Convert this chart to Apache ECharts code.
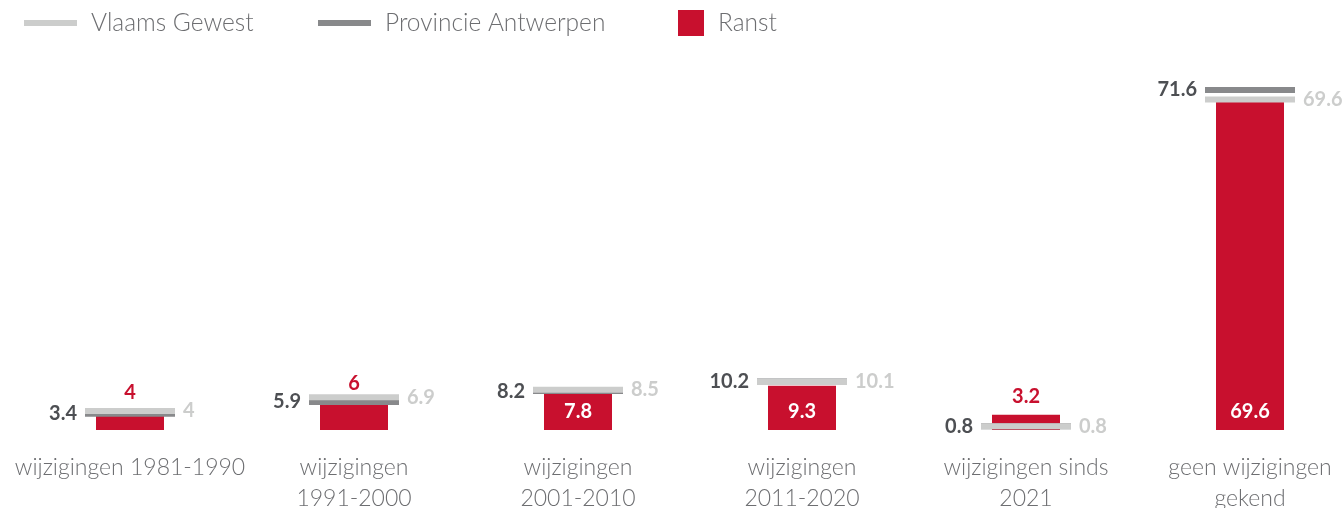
<!DOCTYPE html>
<html>
<head>
<meta charset="utf-8">
<script src="https://cdn.jsdelivr.net/npm/echarts@6/dist/echarts.min.js"></script>
<style>
  html, body { margin: 0; padding: 0; background: #ffffff; }
  #chart { width: 1344px; height: 508px; }
</style>
</head>
<body>
<div id="chart"></div>
<script>
// Share of dwellings by period of last change
const categories = [
  'wijzigingen 1981-1990',
  'wijzigingen\n1991-2000',
  'wijzigingen\n2001-2010',
  'wijzigingen\n2011-2020',
  'wijzigingen sinds\n2021',
  'geen wijzigingen\ngekend'
];
const ranst = [4, 6, 7.8, 9.3, 3.2, 69.6];
const vlaamsGewest = [4, 6.9, 8.5, 10.1, 0.8, 69.6];
const provincieAntwerpen = [3.4, 5.9, 8.2, 10.2, 0.8, 71.6];

const RED = '#c8102e';
const LIGHT = '#cccdcc';
const DARK = '#88898b';
const DARK_TEXT = '#4d4f53';
const FONT = 'Lato, "Open Sans", sans-serif';

// short bars carry their value above, taller ones inside near the base
const insideFrom = 7;
const ranstData = ranst.map(v => ({
  value: v,
  label: v >= insideFrom
    ? { position: 'insideBottom', distance: 8, color: '#ffffff' }
    : { position: 'top', distance: 8, color: RED }
}));

const legendText = { fontFamily: FONT, fontSize: 24.5, fontWeight: 300, color: '#6d6e71', padding: [0, 0, 0, 9], lineHeight: 26 };

const chart = echarts.init(document.getElementById('chart'), null, { renderer: 'canvas' });
chart.setOption({
  animation: false,
  backgroundColor: '#ffffff',
  legend: [
    { data: [{ name: 'Vlaams Gewest', icon: 'rect' }], left: 24, top: 10, padding: 0,
      itemWidth: 53, itemHeight: 6, textStyle: legendText, selectedMode: false },
    { data: [{ name: 'Provincie Antwerpen', icon: 'rect' }], left: 318, top: 10, padding: 0,
      itemWidth: 53, itemHeight: 6, textStyle: legendText, selectedMode: false },
    { data: [{ name: 'Ranst', icon: 'rect' }], left: 678, top: 10, padding: 0,
      itemWidth: 26, itemHeight: 26, textStyle: legendText, selectedMode: false }
  ],
  grid: { left: 18, right: -18, top: 88, bottom: 78, containLabel: false, outerBoundsMode: 'none' },
  xAxis: {
    type: 'category',
    data: categories,
    axisLine: { show: false },
    axisTick: { show: false },
    axisLabel: {
      interval: 0,
      margin: 22,
      fontFamily: FONT,
      fontSize: 23,
      fontWeight: 300,
      lineHeight: 31,
      color: '#6d6e71'
    }
  },
  yAxis: {
    type: 'value',
    min: 0,
    max: 72,
    show: false,
    splitLine: { show: false }
  },
  series: [
    {
      name: 'Ranst',
      type: 'bar',
      data: ranstData,
      barWidth: 68,
      z: 1,
      itemStyle: { color: RED },
      label: { show: true, fontFamily: FONT, fontSize: 20, fontWeight: 'bold' }
    },
    {
      name: 'Provincie Antwerpen',
      type: 'scatter',
      data: provincieAntwerpen,
      symbol: 'rect',
      symbolSize: [90, 6],
      z: 3,
      itemStyle: { color: DARK, opacity: 1 },
      label: { show: true, position: 'left', distance: 8, color: DARK_TEXT,
               fontFamily: FONT, fontSize: 20, fontWeight: 'bold' }
    },
    {
      name: 'Vlaams Gewest',
      type: 'scatter',
      data: vlaamsGewest,
      symbol: 'rect',
      symbolSize: [90, 6],
      z: 4,
      itemStyle: { color: LIGHT, opacity: 1 },
      label: { show: true, position: 'right', distance: 8, color: LIGHT,
               fontFamily: FONT, fontSize: 20, fontWeight: 'bold' }
    }
  ]
});
</script>
</body>
</html>
